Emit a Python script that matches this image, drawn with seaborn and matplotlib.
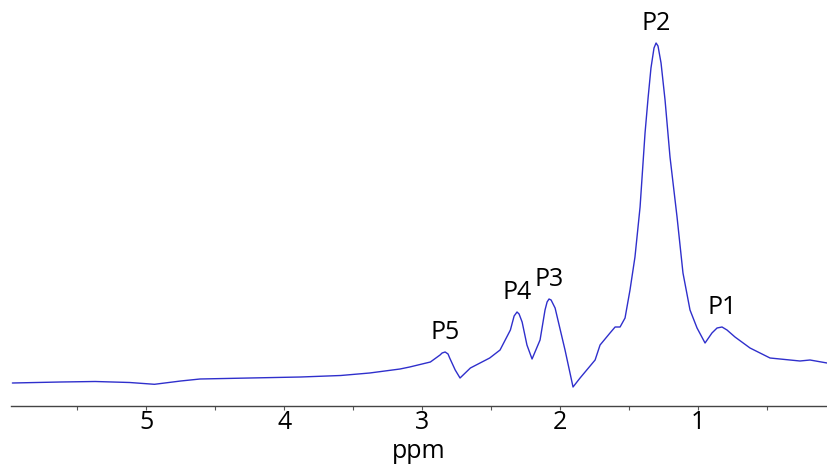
import pandas as pd
import matplotlib.pyplot as plt
import seaborn as sns

# chemical shift (ppm) and signal intensity
ppm = [5.97, 5.62, 5.37, 5.12, 4.94, 4.75, 4.61, 4.25, 3.88, 3.59, 3.38, 3.16,
       3.09, 2.94, 2.87, 2.855, 2.833, 2.812, 2.80, 2.76, 2.725, 2.65, 2.51,
       2.435, 2.36, 2.333, 2.312, 2.297, 2.275, 2.24, 2.203, 2.145, 2.109,
       2.094, 2.08, 2.065, 2.036, 1.964, 1.906, 1.855, 1.746, 1.71, 1.638,
       1.601, 1.565, 1.529, 1.493, 1.457, 1.42, 1.384, 1.362, 1.341, 1.319,
       1.304, 1.290, 1.268, 1.239, 1.203, 1.152, 1.109, 1.058, 1.007, 0.949,
       0.899, 0.862, 0.826, 0.790, 0.732, 0.623, 0.478, 0.261, 0.188, 0.065]
intensity = [0, 1, 1.5, 0.5, -1.3, 2, 4, 5, 6, 7.5, 10, 14,
             16, 21, 28, 30, 31, 29, 25, 13, 5, 15, 25,
             33, 53, 67, 71, 69, 61, 38, 24, 43, 73,
             81, 84, 83, 75, 33, -4, 5, 23, 38, 50,
             56, 56, 65, 93, 126, 176, 250, 285, 315, 335,
             340, 337, 320, 283, 226, 166, 110, 73, 55, 40,
             50, 55, 56, 53, 46, 35, 25, 22, 23, 20]

# peak labels
peak_names = ['P1', 'P2', 'P3', 'P4', 'P5']
peak_ppm = [0.826, 1.304, 2.08, 2.312, 2.833]
peak_int = [56, 340, 84, 71, 31]

df = pd.DataFrame({'ppm': ppm, 'intensity': intensity})

sns.set_style('white')
plt.rcParams['font.family'] = ['Open Sans', 'DejaVu Sans']

fig = plt.figure(figsize=(8.27, 4.67), dpi=100)
ax = fig.add_axes([11 / 827, 1 - 406 / 467, 1 - 11 / 827, 406 / 467])

sns.lineplot(data=df, x='ppm', y='intensity', ax=ax, color='#2f2fcc', linewidth=1.0)

for name, x, y in zip(peak_names, peak_ppm, peak_int):
    ax.annotate(name, xy=(x, y), xytext=(0, 14), textcoords='offset points',
                ha='center', va='center', fontsize=18, color='black')

ax.set_xlim(5.98, 0.065)
ax.set_ylim(-23, 383)
ax.set_xticks([5, 4, 3, 2, 1])
ax.set_xticks([5.5, 4.5, 3.5, 2.5, 1.5, 0.5], minor=True)
ax.tick_params(axis='x', which='both', direction='out', length=3, width=0.8,
               color='#555555', labelsize=18, labelcolor='black', pad=0, bottom=True)
ax.set_yticks([])
ax.set_ylabel('')
ax.set_xlabel('ppm', fontsize=18, labelpad=3, color='black')
sns.despine(ax=ax, left=True, top=True, right=True)
ax.spines['bottom'].set_color('#444444')
ax.spines['bottom'].set_linewidth(1.0)

fig.savefig('out.png', dpi=100)
